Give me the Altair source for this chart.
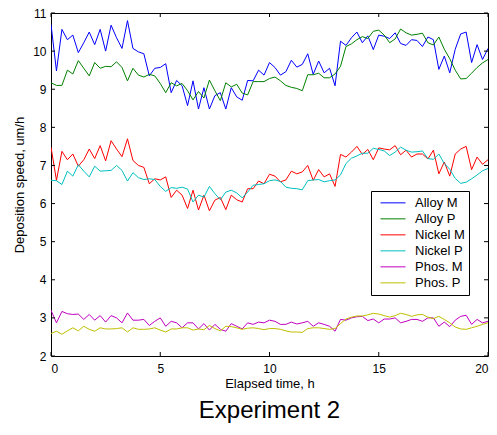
import altair as alt
import pandas as pd

hours = [i * 0.25 for i in range(81)]

alloy_m = [10.70, 9.48, 10.57, 10.30, 10.42, 9.96, 10.22, 10.50, 10.17, 10.57,
           10.00, 10.68, 10.35, 10.07, 10.80, 10.07, 9.98, 9.93, 9.35, 9.55,
           9.57, 9.67, 8.91, 9.23, 9.09, 8.57, 9.22, 8.48, 9.04, 8.48,
           8.83, 8.91, 8.48, 9.04, 8.80, 8.71, 9.23, 9.22, 9.50, 9.37,
           9.70, 9.57, 9.37, 9.46, 9.76, 9.58, 9.65, 9.93, 9.39, 9.74,
           9.43, 9.55, 9.09, 10.26, 10.15, 10.35, 10.50, 10.22, 10.40, 10.04,
           10.42, 10.39, 10.33, 10.48, 10.20, 10.15, 10.30, 10.28, 10.12, 10.37,
           10.30, 9.52, 9.87, 9.43, 10.05, 10.45, 10.50, 9.70, 10.17, 9.78,
           10.07]

alloy_p = [9.17, 9.10, 9.10, 9.50, 9.40, 9.75, 9.55, 9.35, 9.70, 9.55,
           9.60, 9.59, 9.72, 9.57, 9.22, 9.55, 9.37, 9.32, 9.39, 9.35,
           9.15, 8.91, 9.17, 9.09, 9.15, 8.96, 8.72, 8.94, 8.77, 9.24,
           8.96, 8.70, 9.17, 9.06, 9.13, 8.90, 8.85, 9.20, 9.20, 9.20,
           9.28, 9.32, 9.22, 9.10, 9.05, 9.02, 8.96, 9.38, 9.38, 9.42,
           9.30, 9.30, 9.40, 9.60, 10.12, 10.19, 10.30, 10.38, 10.33, 10.52,
           10.55, 10.42, 10.22, 10.32, 10.58, 10.48, 10.42, 10.44, 10.47, 10.22,
           10.16, 10.37, 10.05, 9.80, 9.50, 9.27, 9.28, 9.42, 9.57, 9.69,
           9.78]

nickel_m = [7.48, 6.61, 7.37, 7.15, 7.30, 6.98, 7.15, 7.43, 7.18, 7.52,
            7.12, 7.65, 7.43, 7.23, 7.70, 7.13, 7.00, 6.95, 6.52, 6.65,
            6.62, 6.70, 6.16, 6.35, 6.22, 5.87, 6.35, 5.83, 6.22, 5.81,
            6.09, 6.16, 5.84, 6.22, 6.10, 6.04, 6.39, 6.39, 6.59, 6.52,
            6.77, 6.72, 6.57, 6.62, 6.85, 6.78, 6.83, 7.00, 6.61, 6.89,
            6.70, 6.78, 6.45, 7.29, 7.22, 7.35, 7.50, 7.29, 7.42, 7.15,
            7.46, 7.43, 7.41, 7.52, 7.28, 7.40, 7.22, 7.30, 7.30, 7.17,
            7.40, 6.78, 7.09, 6.72, 7.30, 7.43, 7.50, 6.89, 7.22, 7.03,
            7.15]

nickel_p = [6.61, 6.60, 6.50, 6.85, 6.72, 7.02, 6.85, 6.70, 6.98, 6.85,
            6.86, 6.87, 7.00, 6.87, 6.59, 6.81, 6.68, 6.63, 6.65, 6.63,
            6.45, 6.32, 6.42, 6.40, 6.43, 6.38, 6.04, 6.22, 6.17, 6.45,
            6.26, 6.10, 6.30, 6.35, 6.28, 6.15, 6.30, 6.48, 6.50, 6.52,
            6.60, 6.62, 6.58, 6.43, 6.40, 6.39, 6.36, 6.60, 6.62, 6.63,
            6.57, 6.60, 6.62, 6.75, 7.05, 7.19, 7.25, 7.32, 7.32, 7.45,
            7.42, 7.38, 7.26, 7.35, 7.48, 7.40, 7.35, 7.36, 7.38, 7.18,
            7.16, 7.30, 7.05, 6.90, 6.66, 6.53, 6.56, 6.65, 6.75, 6.86,
            6.92]

phos_m = [3.20, 2.87, 3.17, 3.11, 3.09, 3.10, 2.96, 3.09, 2.94, 3.06,
          2.89, 3.06, 3.00, 2.87, 3.13, 2.94, 2.94, 2.96, 2.80, 2.91,
          3.00, 2.78, 2.91, 2.87, 2.74, 2.87, 2.87, 2.71, 2.85, 2.68,
          2.83, 2.70, 2.65, 2.85, 2.78, 2.71, 2.87, 2.83, 2.89, 2.87,
          2.94, 2.91, 2.83, 2.83, 2.89, 2.84, 2.87, 2.91, 2.78, 2.87,
          2.83, 2.78, 2.65, 2.96, 2.94, 3.00, 3.03, 3.04, 2.93, 2.97,
          2.87, 2.97, 2.97, 3.00, 2.87, 2.91, 2.96, 2.96, 2.91, 3.00,
          3.00, 2.78, 2.89, 2.77, 2.94, 3.04, 3.07, 2.83, 2.96, 2.87,
          2.91]

phos_p = [2.59, 2.65, 2.57, 2.66, 2.74, 2.66, 2.78, 2.70, 2.65, 2.74,
          2.71, 2.71, 2.72, 2.74, 2.63, 2.74, 2.70, 2.70, 2.71, 2.74,
          2.68, 2.63, 2.71, 2.71, 2.74, 2.74, 2.68, 2.71, 2.69, 2.80,
          2.72, 2.66, 2.78, 2.77, 2.74, 2.70, 2.73, 2.74, 2.72, 2.69,
          2.72, 2.72, 2.70, 2.66, 2.63, 2.63, 2.62, 2.72, 2.74, 2.74,
          2.72, 2.70, 2.72, 2.85, 2.97, 3.02, 3.05, 3.05, 3.08, 3.12,
          3.10, 3.06, 3.02, 3.06, 3.12, 3.09, 3.04, 3.08, 3.09, 3.02,
          2.98, 3.04, 2.96, 2.87, 2.76, 2.71, 2.70, 2.74, 2.78, 2.83,
          2.87]

series_names = ["Alloy M", "Alloy P", "Nickel M", "Nickel P", "Phos. M", "Phos. P"]
series_values = [alloy_m, alloy_p, nickel_m, nickel_p, phos_m, phos_p]
series_colors = ["#0000FF", "#008000", "#FF0000", "#00BFBF", "#BF00BF", "#BFBF00"]

x_ticks = [0, 5, 10, 15, 20]
y_ticks = [2, 3, 4, 5, 6, 7, 8, 9, 10, 11]

rows = []
for k, (name, vals) in enumerate(zip(series_names, series_values)):
    for t, v in zip(hours, vals):
        rows.append({"t": t, "v": v, "series": name})
df = pd.DataFrame(rows)

W, H = 437, 343
FONT = "Liberation Sans"

xscale = alt.Scale(domain=[0, 20], nice=False, zero=False)
yscale = alt.Scale(domain=[2, 11], nice=False, zero=False)

x_axis = alt.Axis(values=x_ticks, ticks=False, domain=False, grid=False,
                  labelPadding=7, titlePadding=3, labelFontSize=12, titleFontSize=13,
                  labelFont=FONT, titleFont=FONT, titleFontWeight="normal",
                  labelColor="black", titleColor="black")
y_axis = alt.Axis(values=y_ticks, ticks=False, domain=False, grid=False,
                  labelPadding=5, titlePadding=6, labelFontSize=12, titleFontSize=13,
                  labelFont=FONT, titleFont=FONT, titleFontWeight="normal",
                  labelColor="black", titleColor="black")

X_TITLE = "Elapsed time, h"
Y_TITLE = "Deposition speed, um/h"

lines = alt.Chart(df).mark_line(strokeWidth=1, clip=True).encode(
    x=alt.X("t:Q", scale=xscale, axis=x_axis, title=X_TITLE),
    y=alt.Y("v:Q", scale=yscale, axis=y_axis, title=Y_TITLE),
    color=alt.Color("series:N", sort=series_names,
                    scale=alt.Scale(domain=series_names, range=series_colors),
                    legend=alt.Legend(title=None, orient="none", legendX=320, legendY=178,
                                      symbolType="stroke", symbolSize=625,
                                      symbolStrokeWidth=1, symbolOffset=5,
                                      labelFontSize=13, labelFont=FONT,
                                      labelColor="black", fillColor="white",
                                      strokeColor="black", padding=4, labelOffset=9,
                                      rowPadding=0, clipHeight=15.7, labelLimit=200)),
)

xt = pd.DataFrame({"t": x_ticks})
yt = pd.DataFrame({"v": y_ticks})

xt_bottom = alt.Chart(xt).mark_rule(color="black", strokeWidth=1).encode(
    x=alt.X("t:Q", scale=xscale, axis=x_axis, title=X_TITLE),
    y=alt.value(H - 4), y2=alt.value(H))
xt_top = alt.Chart(xt).mark_rule(color="black", strokeWidth=1).encode(
    x=alt.X("t:Q", scale=xscale, axis=x_axis, title=X_TITLE),
    y=alt.value(0), y2=alt.value(4))
yt_left = alt.Chart(yt).mark_rule(color="black", strokeWidth=1).encode(
    y=alt.Y("v:Q", scale=yscale, axis=y_axis, title=Y_TITLE),
    x=alt.value(0), x2=alt.value(4))
yt_right = alt.Chart(yt).mark_rule(color="black", strokeWidth=1).encode(
    y=alt.Y("v:Q", scale=yscale, axis=y_axis, title=Y_TITLE),
    x=alt.value(W - 4), x2=alt.value(W))

chart = alt.layer(lines, xt_bottom, xt_top, yt_left, yt_right).properties(
    width=W, height=H,
    autosize=alt.AutoSizeParams(type="none"),
    padding={"left": 43, "top": 5, "right": 1, "bottom": 71},
    title=alt.TitleParams("Experiment 2", orient="bottom", fontSize=24, font=FONT,
                          fontWeight="normal", color="black", offset=9),
    background="white",
).configure_view(stroke="black", strokeWidth=1)

chart.save("out.html", embed_options={"renderer": "svg", "actions": False})
